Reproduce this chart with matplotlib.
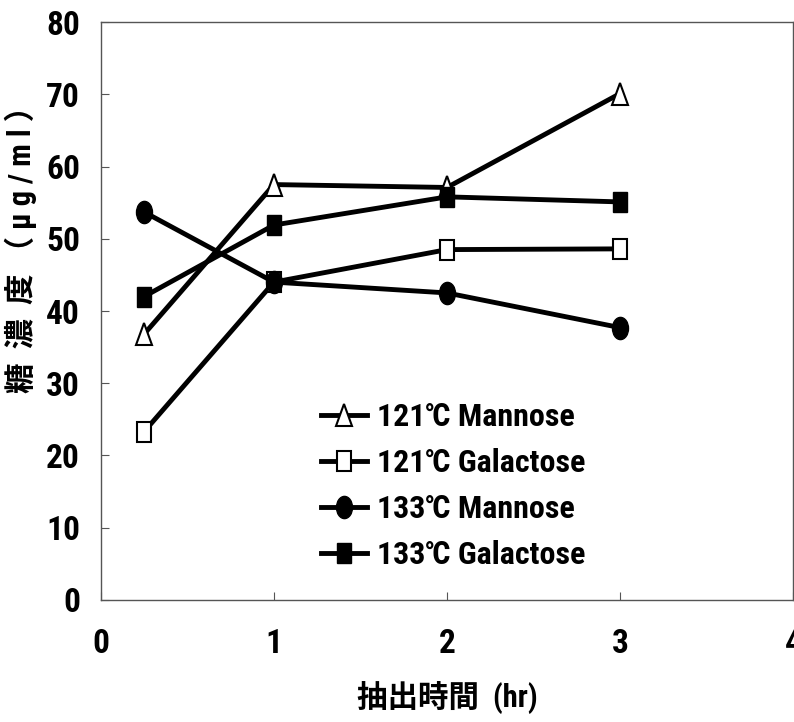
import matplotlib
matplotlib.use("Agg")
import matplotlib.pyplot as plt
from matplotlib import font_manager
from matplotlib.markers import MarkerStyle
from matplotlib.transforms import Affine2D

# pick a narrow latin face if one is there
names = {f.name for f in font_manager.fontManager.ttflist}
narrow = [n for n in ['Liberation Sans Narrow', 'Roboto Condensed', 'DejaVu Sans Condensed', 'Open Sans Condensed'] if n in names]
plt.rcParams['font.family'] = narrow + ['Noto Sans CJK JP', 'DejaVu Sans']
plt.rcParams['font.weight'] = 'bold'

# extraction time (hr)
hours = [0.25, 1, 2, 3]

man121 = [36.8, 57.5, 57.1, 70.1]
gal121 = [23.3, 44.0, 48.5, 48.6]
man133 = [53.7, 44.0, 42.5, 37.7]
gal133 = [42.0, 51.9, 55.8, 55.1]

labels = ["121℃ Mannose", "121℃ Galactose", "133℃ Mannose", "133℃ Galactose"]

squeeze = Affine2D().scale(0.72, 1.0)
tri = MarkerStyle('^', transform=squeeze)
sq = MarkerStyle('s', transform=squeeze)
circ = MarkerStyle('o', transform=squeeze)

fig = plt.figure(figsize=(7.94, 7.22), dpi=100)
ax = fig.add_axes([0.127, 0.169, 0.872, 0.8005])

ax.plot(hours, man121, color='black', lw=3.5, marker=tri, ms=16, mfc='white', mec='black', mew=1.5, label=labels[0])
ax.plot(hours, gal121, color='black', lw=3.5, marker=sq, ms=15, mfc='white', mec='black', mew=1.5, label=labels[1])
ax.plot(hours, man133, color='black', lw=3.5, marker=circ, ms=16, mfc='black', mec='black', label=labels[2])
ax.plot(hours, gal133, color='black', lw=3.5, marker=sq, ms=15, mfc='black', mec='black', label=labels[3])

ax.set_xlim(0, 4)
ax.set_ylim(0, 80)
ax.set_xticks([0, 1, 2, 3, 4])
ax.set_yticks(range(0, 90, 10))
ax.tick_params(direction='in', length=6, width=0.8, color='#555555', labelsize=24)
ax.tick_params(axis='x', pad=20)
ax.tick_params(axis='y', pad=15)
for s in ax.spines.values():
    s.set_color('#555555')
    s.set_linewidth(1.0)

ax.set_xlabel("抽出時間  (hr)", fontsize=22, fontweight='bold', labelpad=16)
ax.set_ylabel("糖  濃  度 （ μ g / m l ）", fontsize=22, fontweight='bold')
ax.yaxis.set_label_coords(-0.092, 0.62)

leg = ax.legend(loc='upper left', bbox_to_anchor=(0.276, 0.392), frameon=False,
                fontsize=23, handlelength=1.45, handletextpad=0.3, labelspacing=0.5)

plt.savefig("out.png")
